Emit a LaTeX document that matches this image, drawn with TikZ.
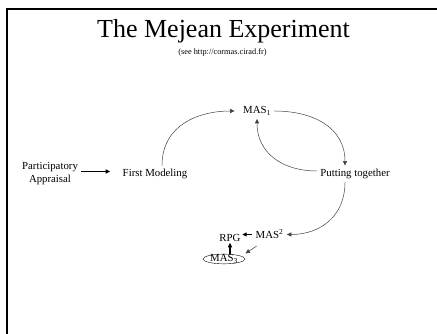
\documentclass[tikz,border=0pt]{standalone}
\usepackage{fontspec}
\setmainfont{Liberation Serif}
\usetikzlibrary{arrows.meta,shapes.geometric}

\begin{document}
\begin{tikzpicture}[x=10pt,y=10pt,>={Triangle[length=4.5pt,width=4pt]},
	every node/.style={font=\fontsize{10.8}{13}\selectfont},
	arc/.style={draw=black!75,line width=0.5pt},
	bold/.style={line width=1.2pt}]
	\useasboundingbox (0,0) rectangle (43.7,33.4);
	
	% Draw frame
	\draw[line width=2pt,line join=miter] (0.7,0) -- (0.7,32.5) -- (43.7,32.5);
	
	% Draw title
	\node[anchor=base,font=\fontsize{26}{31}\selectfont] (title) at (22.35,29.6) {The Mejean Experiment};
	\node[anchor=base,font=\fontsize{8.3}{10}\selectfont] (url) at (22.25,27.9) {(see http://cormas.cirad.fr)};
	
	% Draw nodes
	\node[align=center] (PA) at (5.0,16.0) {Participatory\\Appraisal};
	\node (FM) at (15.5,16.0) {First Modeling};
	\node (MAS1) at (25.7,22.3) {MAS\textsubscript{1}};
	\node (PT) at (35.5,16.0) {Putting together};
	\node (MAS2) at (26.95,9.95) {MAS\textsuperscript{2}};
	\node[inner sep=1.5pt] (RPG) at (23.0,9.65) {RPG};
	\node[draw,ellipse,inner xsep=1pt,inner ysep=-1pt] (MAS3) at (22.4,7.5) {MAS\textsubscript{3}};
	
	% Draw arcs, the modelling loop
	\draw[->,bold,shorten >=9pt] ([yshift=2.5pt]PA.east) -- ([yshift=2.5pt]PA.east -| FM.west);
	\draw[->,arc,shorten >=5pt] ([xshift=7pt]FM.north) to[out=90,in=180,looseness=1.1] (MAS1.west);
	\draw[->,arc] (MAS1.east) to[out=0,in=90,looseness=1.1] ([xshift=-10pt]PT.north);
	\draw[->,arc] ([yshift=3pt]PT.west) to[out=180,in=-90,looseness=1.1] (MAS1.south);
	\draw[->,arc] ([xshift=-10pt]PT.south) to[out=-90,in=0,looseness=1.1] (MAS2.east);
	
	% Draw arcs, what comes out of it
	\draw[->,bold] (MAS2.west) -- (MAS2.west -| RPG.east);
	\draw[->,bold] (MAS3.north -| RPG.south) -- (RPG.south);
	\draw[->,arc] ([shift={(0.45,-0.35)}]MAS2.south west) -- ([shift={(0.65,0.2)}]MAS3.north east);
	
\end{tikzpicture}
\end{document}
